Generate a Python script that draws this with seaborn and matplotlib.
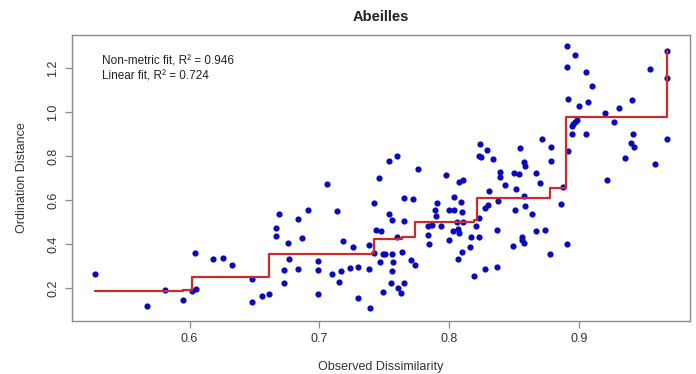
import matplotlib
matplotlib.use("Agg")
import matplotlib.pyplot as plt
import seaborn as sns
import pandas as pd

# Shepard diagram for the "Abeilles" NMDS ordination
observed = [
    0.527, 0.567, 0.581, 0.595, 0.602, 0.605, 0.604, 0.618, 0.626, 0.633,
    0.648, 0.648, 0.656, 0.661, 0.667, 0.667, 0.669, 0.673, 0.673, 0.676,
    0.677, 0.684, 0.684, 0.687, 0.691, 0.699, 0.699, 0.699, 0.706, 0.710,
    0.714, 0.715, 0.717, 0.718, 0.724, 0.726, 0.730, 0.730, 0.738, 0.738,
    0.739, 0.742, 0.742, 0.744, 0.746, 0.748, 0.747, 0.749, 0.749, 0.751,
    0.754, 0.754, 0.755, 0.756, 0.756, 0.756, 0.757, 0.760, 0.760, 0.761,
    0.763, 0.764, 0.765, 0.765, 0.765, 0.771, 0.772, 0.774, 0.776, 0.784,
    0.787, 0.784, 0.785, 0.789, 0.790, 0.791, 0.794, 0.798, 0.800, 0.800,
    0.803, 0.804, 0.804, 0.806, 0.807, 0.807, 0.808, 0.808, 0.809, 0.810,
    0.810, 0.811, 0.811, 0.816, 0.817, 0.819, 0.821, 0.823, 0.823, 0.823,
    0.824, 0.825, 0.828, 0.828, 0.829, 0.830, 0.831, 0.834, 0.837, 0.837,
    0.838, 0.839, 0.839, 0.843, 0.849, 0.850, 0.851, 0.852, 0.854, 0.855,
    0.856, 0.856, 0.858, 0.858, 0.858, 0.859, 0.859, 0.864, 0.867, 0.867,
    0.870, 0.872, 0.874, 0.878, 0.879, 0.879, 0.886, 0.888, 0.891, 0.891,
    0.891, 0.892, 0.892, 0.895, 0.895, 0.896, 0.897, 0.899, 0.897, 0.900,
    0.906, 0.906, 0.907, 0.910, 0.920, 0.922, 0.927, 0.931, 0.936, 0.940,
    0.941, 0.942, 0.943, 0.955, 0.959, 0.968, 0.968, 0.968,
]
ordination = [
    0.265, 0.118, 0.192, 0.147, 0.186, 0.195, 0.360, 0.332, 0.338, 0.303,
    0.240, 0.135, 0.162, 0.171, 0.471, 0.436, 0.538, 0.280, 0.221, 0.403,
    0.332, 0.512, 0.286, 0.426, 0.555, 0.323, 0.280, 0.173, 0.674, 0.262,
    0.551, 0.227, 0.277, 0.414, 0.290, 0.385, 0.295, 0.153, 0.395, 0.286,
    0.110, 0.360, 0.588, 0.464, 0.699, 0.458, 0.318, 0.183, 0.356, 0.353,
    0.779, 0.538, 0.221, 0.356, 0.509, 0.277, 0.318, 0.430, 0.800, 0.201,
    0.176, 0.362, 0.608, 0.503, 0.224, 0.329, 0.605, 0.306, 0.741, 0.480,
    0.485, 0.440, 0.400, 0.553, 0.527, 0.585, 0.480, 0.712, 0.553, 0.417,
    0.459, 0.612, 0.553, 0.499, 0.468, 0.332, 0.682, 0.449, 0.590, 0.544,
    0.362, 0.691, 0.500, 0.385, 0.433, 0.256, 0.483, 0.801, 0.517, 0.430,
    0.855, 0.797, 0.562, 0.286, 0.829, 0.576, 0.642, 0.788, 0.294, 0.462,
    0.597, 0.726, 0.705, 0.667, 0.392, 0.721, 0.556, 0.649, 0.717, 0.835,
    0.433, 0.418, 0.405, 0.774, 0.620, 0.753, 0.573, 0.536, 0.459, 0.721,
    0.677, 0.879, 0.462, 0.353, 0.841, 0.779, 0.582, 0.659, 1.299, 1.203,
    0.400, 1.060, 0.824, 0.899, 0.938, 0.944, 0.955, 0.966, 1.260, 1.026,
    1.184, 0.899, 1.048, 1.120, 0.994, 0.690, 0.955, 1.018, 0.791, 0.861,
    1.055, 0.899, 0.841, 1.197, 0.762, 1.280, 1.153, 0.876,
]

# Monotone (isotonic) fit: knots and fitted levels
fit_x = [0.527, 0.595, 0.602, 0.661, 0.741, 0.742, 0.764, 0.774,
         0.819, 0.822, 0.878, 0.890, 0.968]
fit_y = [0.184, 0.191, 0.250, 0.355, 0.360, 0.421, 0.432, 0.498,
         0.510, 0.610, 0.655, 0.977, 1.280]

r2_nonmetric = 0.946
r2_linear = 0.724

x_ticks = [0.6, 0.7, 0.8, 0.9]
y_ticks = [0.2, 0.4, 0.6, 0.8, 1.0, 1.2]

points = pd.DataFrame({"obs": observed, "ord": ordination})
fit = pd.DataFrame({"obs": fit_x, "dhat": fit_y})

sns.set_style("white")
plt.rcParams["font.family"] = ["Liberation Sans", "DejaVu Sans"]

fig = plt.figure(figsize=(6.96, 3.74), dpi=100)
ax = fig.add_axes([0.1034, 0.142, 0.8876, 0.764])

sns.scatterplot(data=points, x="obs", y="ord", ax=ax, s=20,
                color="#0a0ab8", linewidth=0, zorder=2)
sns.lineplot(data=fit, x="obs", y="dhat", ax=ax, estimator=None, sort=False,
             drawstyle="steps-post", color="#c82c2c", linewidth=1.6, zorder=3)

ax.set_xlim(0.5094, 0.9856)
ax.set_ylim(0.05, 1.35)
ax.set_xticks(x_ticks)
ax.set_yticks(y_ticks)
ax.set_xticklabels([f"{v:.1f}" for v in x_ticks])
ax.set_yticklabels([f"{v:.1f}" for v in y_ticks], rotation=90, va="center")

for side in ["left", "right", "top", "bottom"]:
    ax.spines[side].set_visible(True)
    ax.spines[side].set_color("#8c8c8c")
    ax.spines[side].set_linewidth(1.0)

ax.tick_params(axis="both", which="major", direction="out", length=5,
               width=0.9, color="#8c8c8c", labelsize=9, labelcolor="#333333",
               pad=4, left=True, bottom=True)

ax.set_xlabel("Observed Dissimilarity", fontsize=9, color="#333333", labelpad=11)
ax.set_ylabel("Ordination Distance", fontsize=9, color="#333333", labelpad=14)
ax.set_title("Abeilles", fontsize=10.5, fontweight="bold", color="#222222", pad=10)

ax.text(0.049, 0.909, f"Non-metric fit, R\u00b2 = {r2_nonmetric:.3f}",
        transform=ax.transAxes, fontsize=8.5, color="#222222", va="center")
ax.text(0.049, 0.855, f"Linear fit, R\u00b2 = {r2_linear:.3f}",
        transform=ax.transAxes, fontsize=8.5, color="#222222", va="center")

fig.savefig("out.png", dpi=100)
